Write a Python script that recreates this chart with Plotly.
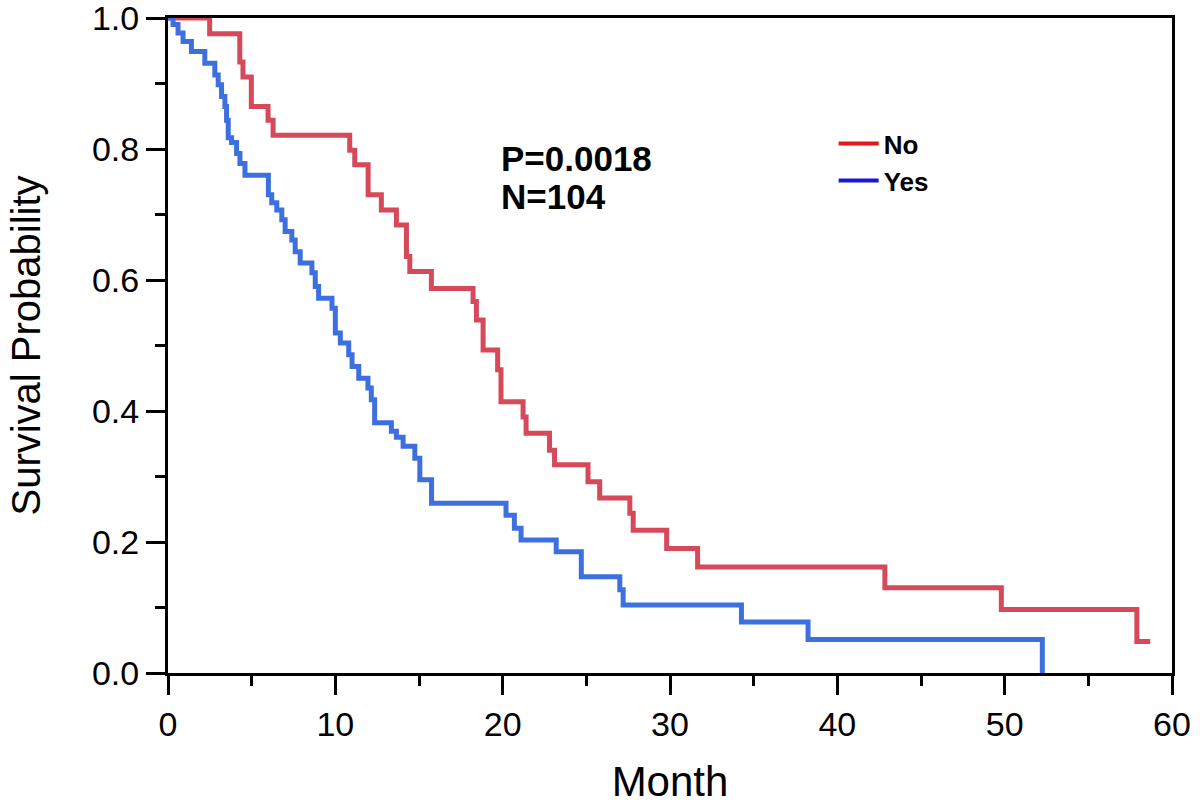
import plotly.graph_objects as go

# Kaplan-Meier step data (time in months, survival probability)
no_time = [0, 2.49, 4.29, 4.48, 4.98, 5.98, 6.28, 10.86, 11.16, 11.96, 12.75, 13.65, 14.25, 14.45,
           15.74, 18.23, 18.43, 18.83, 19.7, 19.9, 21.22, 21.4, 22.8, 23.1, 25.1, 25.8, 27.6, 27.8,
           29.8, 31.65, 42.84, 49.8, 57.9, 58.7]
no_surv = [1.0, 0.976, 0.933, 0.910, 0.865, 0.844, 0.821, 0.798, 0.776, 0.730, 0.707, 0.684, 0.636,
           0.613, 0.587, 0.567, 0.539, 0.493, 0.463, 0.414, 0.391, 0.366, 0.340, 0.318, 0.292, 0.267,
           0.244, 0.218, 0.190, 0.162, 0.130, 0.097, 0.048, 0.048]

yes_time = [0, 0.3, 0.6, 0.9, 1.4, 2.2, 2.8, 3.0, 3.2, 3.4, 3.5, 3.6, 3.8, 4.1, 4.3, 4.6, 6.0, 6.2,
            6.5, 6.8, 7.0, 7.4, 7.6, 7.9, 8.6, 8.8, 9.0, 9.8, 10.0, 10.3, 10.8, 11.0, 11.4, 11.95,
            12.15, 12.35, 13.35, 13.65, 14.05, 14.75, 15.05, 15.75, 20.2, 20.7, 21.1, 23.2, 24.7,
            27.0, 27.2, 34.27, 38.25, 52.25]
yes_surv = [1.0, 0.99, 0.977, 0.964, 0.949, 0.931, 0.913, 0.898, 0.880, 0.865, 0.844, 0.817, 0.810,
            0.793, 0.778, 0.760, 0.730, 0.718, 0.707, 0.692, 0.674, 0.661, 0.643, 0.626, 0.611, 0.590,
            0.572, 0.557, 0.519, 0.504, 0.486, 0.468, 0.450, 0.435, 0.417, 0.382, 0.369, 0.360, 0.346,
            0.328, 0.295, 0.259, 0.241, 0.221, 0.203, 0.185, 0.147, 0.127, 0.104, 0.078, 0.051, 0.0]

x_ticks = [0, 10, 20, 30, 40, 50, 60]
x_minor = [5, 15, 25, 35, 45, 55]
y_ticks = [0.0, 0.2, 0.4, 0.6, 0.8, 1.0]
y_tick_labels = ["0.0", "0.2", "0.4", "0.6", "0.8", "1.0"]
y_minor = [0.1, 0.3, 0.5, 0.7, 0.9]
p_text = "P=0.0018"
n_text = "N=104"
x_title = "Month"
y_title = "Survival Probability"

FONT = "Liberation Sans, Arial, sans-serif"
RED_CURVE = "#d5495a"
BLUE_CURVE = "#3d70de"

fig = go.Figure()
fig.add_trace(go.Scatter(x=no_time, y=no_surv, mode="lines", line=dict(shape="hv", color=RED_CURVE, width=5),
                         showlegend=False, name="No"))
fig.add_trace(go.Scatter(x=yes_time, y=yes_surv, mode="lines", line=dict(shape="hv", color=BLUE_CURVE, width=5),
                         showlegend=False, name="Yes"))
# legend entries (pure colours as in the reference legend)
fig.add_trace(go.Scatter(x=[None], y=[None], mode="lines", line=dict(color="#e8141c", width=4), name="<b>No</b>"))
fig.add_trace(go.Scatter(x=[None], y=[None], mode="lines", line=dict(color="#1818d0", width=4), name="<b>Yes</b>"))

fig.add_annotation(x=19.8, y=0.786, xref="x", yref="y", text="<b>%s</b>" % p_text, showarrow=False,
                   xanchor="left", yanchor="middle", font=dict(family=FONT, size=35, color="black"))
fig.add_annotation(x=19.8, y=0.727, xref="x", yref="y", text="<b>%s</b>" % n_text, showarrow=False,
                   xanchor="left", yanchor="middle", font=dict(family=FONT, size=35, color="black"))
# y axis title (placed as rotated text, as in the reference)
fig.add_annotation(x=-0.1424, y=0.5, xref="paper", yref="paper", text=y_title, textangle=-90,
                   showarrow=False, xanchor="center", yanchor="middle",
                   font=dict(family=FONT, size=40, color="black"))

axis_common = dict(showgrid=False, zeroline=False, showline=True, linecolor="black", linewidth=3,
                   mirror=True, ticks="outside", tickcolor="black", tickwidth=3, automargin=False,
                   ticklabeloverflow="allow",
                   tickfont=dict(family=FONT, size=34, color="black"))

fig.update_xaxes(range=[0, 60], tickmode="array", tickvals=x_ticks, ticklen=19,
                 minor=dict(tickmode="array", tickvals=x_minor, ticklen=10, tickwidth=3, tickcolor="black", ticks="outside"),
                 title=dict(text=x_title, font=dict(family=FONT, size=42, color="black"), standoff=30),
                 **axis_common)
fig.update_yaxes(range=[0, 1.0], tickmode="array", tickvals=y_ticks, ticktext=y_tick_labels, ticklen=19,
                 minor=dict(tickmode="array", tickvals=y_minor, ticklen=10, tickwidth=3, tickcolor="black", ticks="outside"),
                 **axis_common)

fig.update_layout(
    width=1200, height=805,
    margin=dict(l=168, r=28, t=18, b=132),
    paper_bgcolor="white", plot_bgcolor="white",
    legend=dict(x=0.663, y=0.844, xanchor="left", yanchor="top", bgcolor="rgba(0,0,0,0)",
                font=dict(family=FONT, size=26, color="black"), tracegroupgap=0, itemwidth=40),
)

fig.write_html("out.html", config={"displayModeBar": False},
               post_script="document.body.style.margin='0';document.body.style.overflow='hidden';")
